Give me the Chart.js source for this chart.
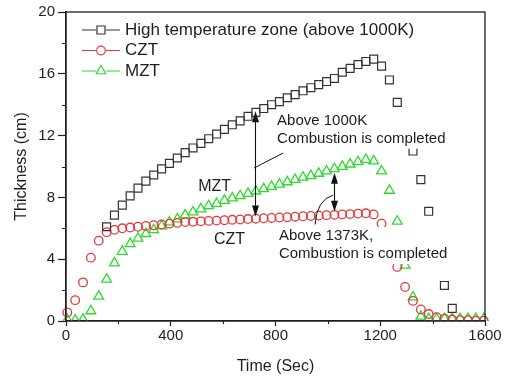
<!DOCTYPE html>
<html>
<head>
<meta charset="utf-8">
<script src="https://cdn.jsdelivr.net/npm/chart.js@4.4.1/dist/chart.umd.min.js"></script>
<style>
  html, body { margin: 0; padding: 0; background: #fff; }
</style>
</head>
<body>
<canvas id="myChart" width="511" height="378"></canvas>
<script>
// Time of each sample (s)
const times = [5, 35, 65, 95, 125, 155, 185, 215, 245, 275,
    305, 335, 365, 395, 425, 455, 485, 515, 545, 575,
    605, 635, 665, 695, 725, 755, 785, 815, 845, 875,
    905, 935, 965, 995, 1025, 1055, 1085, 1115, 1145, 1175,
    1205, 1235, 1265, 1295, 1325, 1355, 1385, 1415, 1445, 1475,
    1505, 1535, 1565, 1595];

// Thickness (cm) of the zone above 1000K
const highZone = [null, null, null, null, null, 6.1, 6.85, 7.5, 8.1, 8.6,
    9.05, 9.45, 9.85, 10.2, 10.55, 10.9, 11.2, 11.5, 11.8, 12.1,
    12.4, 12.7, 12.95, 13.25, 13.5, 13.75, 14.0, 14.2, 14.45, 14.65,
    14.9, 15.1, 15.3, 15.5, 15.7, 16.1, 16.35, 16.6, 16.8, 16.95,
    16.5, 15.6, 14.15, 12.7, 11.0, 9.15, 7.1, 4.6, 2.3, 0.82,
    null, null, null, null];

// CZT thickness (cm)
const czt = [0.55, 1.35, 2.5, 4.1, 5.2, 5.75, 5.9, 6.0, 6.05, 6.1,
    6.15, 6.2, 6.25, 6.3, 6.35, 6.4, 6.42, 6.45, 6.48, 6.5,
    6.52, 6.55, 6.57, 6.6, 6.62, 6.65, 6.67, 6.7, 6.72, 6.75,
    6.78, 6.8, 6.83, 6.85, 6.87, 6.9, 6.92, 6.95, 6.97, 6.9,
    6.3, 5.0, 3.5, 2.2, 1.3, 0.75, 0.45, 0.25, 0.15, 0.1,
    0.05, 0.05, 0.02, 0.02];

// MZT thickness (cm)
const mzt = [0.1, 0.05, 0.1, 0.65, 1.6, 2.7, 3.75, 4.5, 5.0, 5.35,
    5.65, 5.9, 6.15, 6.4, 6.6, 6.85, 7.05, 7.25, 7.45, 7.6,
    7.8, 7.95, 8.1, 8.25, 8.4, 8.55, 8.7, 8.85, 9.0, 9.15,
    9.3, 9.4, 9.55, 9.7, 9.85, 10.0, 10.15, 10.3, 10.45, 10.35,
    9.7, 8.45, 6.45, 3.6, 1.55, 0.3, 0.15, 0.15, 0.15, 0.15,
    0.15, 0.15, 0.15, 0.15];

const seriesNames = ['High temperature zone (above 1000K)', 'CZT', 'MZT'];
const xTicks = [0, 400, 800, 1200, 1600];
const yTicks = [0, 4, 8, 12, 16, 20];

const FONT = '"Liberation Sans", Arial, Helvetica, sans-serif';
const INK = '#1e1e1e';
Chart.defaults.font.family = FONT;
Chart.defaults.color = INK;

function pairs(vals) {
    return times.map((t, i) => ({ x: t, y: vals[i] }));
}

// frame, minor ticks, annotations and the legend inside the plot
const extras = {
    id: 'extras',
    afterDatasetsDraw(chart) {
        const c = chart.ctx, xs = chart.scales.x, ys = chart.scales.y;
        const px = v => xs.getPixelForValue(v), py = v => ys.getPixelForValue(v);
        c.save();
        c.font = '15px ' + FONT;
        c.textBaseline = 'middle';

        // text blocks with white boxes (they hide points behind them)
        const blocks = [
            { t: 806, v: [12.95, 11.8], lines: ['Above 1000K', 'Combustion is completed'] },
            { t: 813, v: [5.5, 4.33], lines: ['Above 1373K,', 'Combustion is completed'] }
        ];
        blocks.forEach(b => {
            const x = px(b.t);
            const w = Math.max(...b.lines.map(s => c.measureText(s).width));
            const top = py(b.v[0]) - 9, bot = py(b.v[1]) + 10;
            c.fillStyle = '#fff';
            c.fillRect(x - 2, top, w + 4, bot - top);
            c.fillStyle = INK;
            b.lines.forEach((s, i) => c.fillText(s, x, py(b.v[i])));
        });

        c.font = '16px ' + FONT;
        c.fillText('MZT', px(505), py(8.67));
        c.fillText('CZT', px(565), py(5.3));

        // double arrows between the zones
        c.strokeStyle = '#111';
        c.fillStyle = '#111';
        c.lineWidth = 1.1;
        const arrow = (t, v1, v2) => {
            const x = Math.round(px(t)) + 0.5, y1 = py(v1), y2 = py(v2);
            c.beginPath(); c.moveTo(x, y1 + 8); c.lineTo(x, y2 - 8); c.stroke();
            c.beginPath(); c.moveTo(x, y1); c.lineTo(x - 3.5, y1 + 11); c.lineTo(x + 3.5, y1 + 11); c.closePath(); c.fill();
            c.beginPath(); c.moveTo(x, y2); c.lineTo(x - 3.5, y2 - 11); c.lineTo(x + 3.5, y2 - 11); c.closePath(); c.fill();
        };
        arrow(720, 13.57, 6.76);
        arrow(1022, 9.6, 7.07);

        // leader lines
        c.lineWidth = 1;
        c.beginPath(); c.moveTo(px(718), py(9.9)); c.lineTo(px(829), py(10.87)); c.stroke();
        c.beginPath(); c.moveTo(px(951), py(6.25));
        c.quadraticCurveTo(px(958), py(7.85), px(1020), py(8.15)); c.stroke();
        c.restore();
    },
    afterDraw(chart) {
        const c = chart.ctx, a = chart.chartArea, xs = chart.scales.x, ys = chart.scales.y;
        c.save();
        c.strokeStyle = INK;
        c.lineWidth = 1.3;
        c.strokeRect(a.left, a.top, a.right - a.left, a.bottom - a.top);

        // minor ticks
        c.lineWidth = 1.1;
        c.beginPath();
        [2, 6, 10, 14, 18].forEach(v => {
            const y = Math.round(ys.getPixelForValue(v)) + 0.5;
            c.moveTo(a.left, y); c.lineTo(a.left - 4, y);
        });
        [200, 600, 1000, 1400].forEach(v => {
            const x = Math.round(xs.getPixelForValue(v)) + 0.5;
            c.moveTo(x, a.bottom); c.lineTo(x, a.bottom + 3);
        });
        c.stroke();

        // legend
        c.font = '17px ' + FONT;
        c.textBaseline = 'middle';
        chart.data.datasets.forEach((ds, i) => {
            const y = 30 + i * 20.5, x0 = 82, x1 = 120, xm = 101;
            c.strokeStyle = ds.borderColor;
            c.lineWidth = 1.2;
            c.beginPath(); c.moveTo(x0, y); c.lineTo(xm - 5, y); c.moveTo(xm + 5, y); c.lineTo(x1, y); c.stroke();
            c.beginPath();
            if (ds.pointStyle === 'rect') c.rect(xm - 4, y - 4, 8, 8);
            else if (ds.pointStyle === 'circle') c.arc(xm, y, 4.3, 0, Math.PI * 2);
            else { c.moveTo(xm, y - 5.5); c.lineTo(xm + 4.8, y + 2.75); c.lineTo(xm - 4.8, y + 2.75); c.closePath(); }
            c.stroke();
            c.fillStyle = INK;
            c.fillText(ds.label, 125, y);
        });
        c.restore();
    }
};

const ctx = document.getElementById('myChart').getContext('2d');

const myChart = new Chart(ctx, {
    type: 'scatter',
    data: {
        datasets: [{
            label: seriesNames[0],
            data: pairs(highZone),
            pointStyle: 'rect',
            pointRadius: 5.6,
            borderColor: '#333333',
            backgroundColor: 'rgba(0,0,0,0)',
            borderWidth: 1.2
        }, {
            label: seriesNames[1],
            data: pairs(czt),
            pointStyle: 'circle',
            pointRadius: 4.3,
            borderColor: '#e8363c',
            backgroundColor: 'rgba(0,0,0,0)',
            borderWidth: 1.3
        }, {
            label: seriesNames[2],
            data: pairs(mzt),
            pointStyle: 'triangle',
            pointRadius: 5.6,
            borderColor: '#2fd82f',
            backgroundColor: 'rgba(0,0,0,0)',
            borderWidth: 1.3
        }]
    },
    options: {
        responsive: false,
        animation: false,
        clip: { left: 8, top: 8, right: 8, bottom: 0 },
        layout: { padding: { left: 0, right: 26, top: 12, bottom: 0 } },
        plugins: {
            legend: { display: false },
            tooltip: { enabled: false }
        },
        scales: {
            x: {
                type: 'linear',
                min: 0,
                max: 1600,
                afterBuildTicks(s) { s.ticks = xTicks.map(v => ({ value: v })); },
                ticks: { font: { size: 15 }, padding: 1, color: INK, maxRotation: 0, autoSkip: false, callback: v => String(v) },
                grid: { drawOnChartArea: false, tickLength: 5, tickColor: INK, tickWidth: 1.2 },
                border: { color: INK, width: 1.3 },
                title: { display: true, text: 'Time (Sec)', font: { size: 16 }, color: INK, padding: { top: 0, bottom: 2 } },
                afterFit(s) { s.height = 57; }
            },
            y: {
                min: 0,
                max: 20,
                afterBuildTicks(s) { s.ticks = yTicks.map(v => ({ value: v })); },
                ticks: { font: { size: 15 }, padding: 3, color: INK, autoSkip: false, callback: v => String(v) },
                grid: { drawOnChartArea: false, tickLength: 8, tickColor: INK, tickWidth: 1.2 },
                border: { color: INK, width: 1.3 },
                title: { display: true, text: 'Thickness (cm)', font: { size: 16 }, color: INK, padding: { top: 12, bottom: 0 } },
                afterFit(s) { s.width = 66; }
            }
        }
    },
    plugins: [extras]
});
</script>
</body>
</html>
